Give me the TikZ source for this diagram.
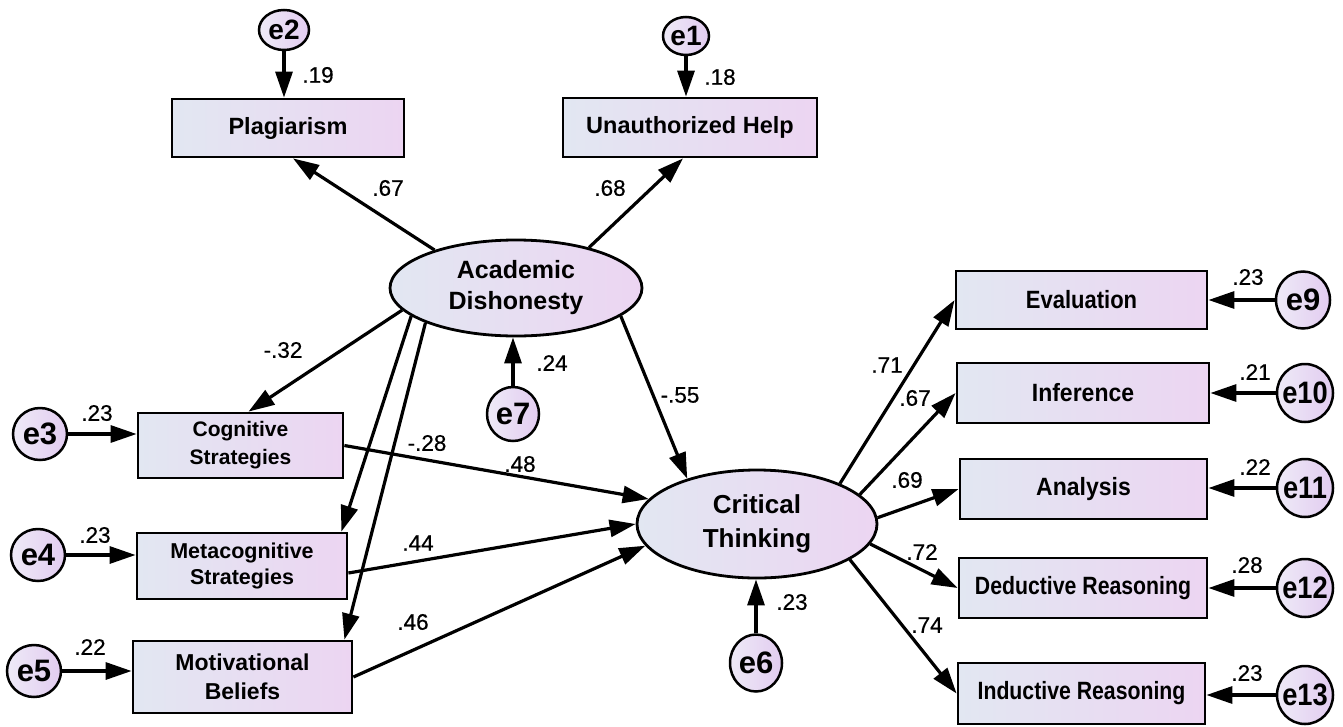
\documentclass[tikz,border=0pt]{standalone}
\usepackage{fontspec}
\usepackage{graphicx}
\setmainfont{Liberation Sans}
\newfontfamily\numfont{Liberation Sans}[FakeBold=0.5]
\usetikzlibrary{arrows.meta,shapes.geometric}
\definecolor{bl}{RGB}{226,231,242}
\definecolor{br}{RGB}{236,213,242}
\definecolor{el}{RGB}{238,234,247}
\definecolor{er}{RGB}{226,204,240}
\newcommand{\fs}[1]{\fontsize{#1}{#1}\selectfont}
\newcommand{\sqz}[2]{\scalebox{#1}[1]{#2}}
\begin{document}
\begin{tikzpicture}[x=1pt,y=-1pt,
 box/.style={draw, line width=2.8pt, rectangle, left color=bl, right color=br, inner sep=0pt, align=center},
 lat/.style={draw, line width=2.8pt, ellipse, left color=bl, right color=br, inner sep=0pt, align=center},
 err/.style={draw, line width=2.5pt, ellipse, left color=el, right color=er, inner sep=0pt, font=\bfseries\fs{31}},
 lbl/.style={inner sep=0pt, font=\numfont\fs{22.5}},
 arr/.style={line width=3.2pt, -{Triangle[length=26pt,width=17pt]}}]
\fill[white] (0,0) rectangle (1343,726);
\useasboundingbox (0,0) rectangle (1343,726);

% error terms
\node[err, minimum width=50pt, minimum height=40pt, font=\bfseries\fs{28}] (e2) at (284,30) {\makebox[0pt]{e2}};
\node[err, minimum width=46pt, minimum height=38pt, font=\bfseries\fs{28}] (e1) at (686,36) {\makebox[0pt]{e1}};
\node[err, minimum width=52pt, minimum height=54pt] (e7) at (513,414) {\makebox[0pt]{e7}};
\node[err, minimum width=54pt, minimum height=52pt] (e3) at (40,434) {\makebox[0pt]{e3}};
\node[err, minimum width=54pt, minimum height=52pt] (e4) at (38,555) {\makebox[0pt]{e4}};
\node[err, minimum width=54pt, minimum height=52pt] (e5) at (34,671) {\makebox[0pt]{e5}};
\node[err, minimum width=52pt, minimum height=57pt] (e6) at (756,663) {\makebox[0pt]{e6}};
\node[err, minimum width=54pt, minimum height=57pt] (e9) at (1303,300) {\makebox[0pt]{e9}};
\node[err, minimum width=56pt, minimum height=58pt] (e10) at (1305,393) {\makebox[0pt]{\sqz{0.88}{e10}}};
\node[err, minimum width=56pt, minimum height=58pt] (e11) at (1305,488) {\makebox[0pt]{\sqz{0.88}{e11}}};
\node[err, minimum width=56pt, minimum height=58pt] (e12) at (1305,588) {\makebox[0pt]{\sqz{0.88}{e12}}};
\node[err, minimum width=56pt, minimum height=58pt] (e13) at (1305,695) {\makebox[0pt]{\sqz{0.88}{e13}}};

% observed variables
\node[box, minimum width=232pt, minimum height=58pt, font=\bfseries\fs{23.5}] (plag) at (288,128) {Plagiarism};
\node[box, minimum width=254pt, minimum height=59pt, font=\bfseries\fs{23.5}] (uh) at (690,127.5) {Unauthorized Help};
\node[box, minimum width=205pt, minimum height=65pt, font=\bfseries\fontsize{21}{28}\selectfont] (cog) at (240.5,445.5) {Cognitive\\Strategies};
\node[box, minimum width=210pt, minimum height=66pt, font=\bfseries\fontsize{21.5}{26}\selectfont] (meta) at (242,566) {Metacognitive\\Strategies};
\node[box, minimum width=219pt, minimum height=72pt, font=\bfseries\fontsize{23}{29}\selectfont] (motiv) at (242.5,677) {Motivational\\Beliefs};
\node[box, minimum width=251pt, minimum height=58pt, font=\bfseries\fs{25}] (eval) at (1081.5,300) {\sqz{0.88}{Evaluation}};
\node[box, minimum width=252pt, minimum height=60pt, font=\bfseries\fs{25}] (inf) at (1083,393) {\sqz{0.92}{Inference}};
\node[box, minimum width=247pt, minimum height=60pt, font=\bfseries\fs{25}] (ana) at (1083.5,489) {\sqz{0.92}{Analysis}};
\node[box, minimum width=248pt, minimum height=60pt, font=\bfseries\fs{25}] (ded) at (1083,588) {\sqz{0.85}{Deductive Reasoning}};
\node[box, minimum width=247pt, minimum height=61pt, font=\bfseries\fs{25}] (ind) at (1081.5,693.5) {\sqz{0.85}{Inductive Reasoning}};

% latent variables
\node[lat, minimum width=252pt, minimum height=96pt, font=\bfseries\fontsize{25}{31}\selectfont] (ad) at (516,288) {Academic\\Dishonesty};
\node[lat, minimum width=240pt, minimum height=108pt, font=\bfseries\fontsize{26}{34}\selectfont] (ct) at (757,524) {Critical\\Thinking};

% connectors
\draw[arr] (e2.south) -- (e2.south |- plag.north);
\draw[arr] (e1.south) -- (e1.south |- uh.north);
\draw[arr] (ad.155) -- ([xshift=5pt]plag.south);
\draw[arr] (ad.29) -- ([xshift=-7pt]uh.south);
\draw[arr] (ad.191) -- ([xshift=8pt]cog.north);
\draw[arr] (ad.195) -- ([xshift=-7pt]meta.north east);
\draw[arr] (ad.201) -- ([xshift=-9pt]motiv.north east);
\draw[arr] (e7.north) -- (e7.north |- ad.south);
\draw[arr] (ad.-15) -- (ct.147);
\draw[arr] (cog.east) -- (ct.167);
\draw[arr] ([yshift=-7pt]meta.east) -- (ct.180);
\draw[arr] (motiv.east) -- (ct.191);
\draw[arr] (e6.north) -- (e6.north |- ct.south);
\draw[arr] (e3) -- (e3 -| cog.west);
\draw[arr] (e4) -- (e4 -| meta.west);
\draw[arr] (e5) -- (e5 -| motiv.west);
\draw[arr] (ct.26) -- (eval.west);
\draw[arr] (ct.16) -- (inf.west);
\draw[arr] (ct.3) -- (ana.west);
\draw[arr] (ct.-10) -- (ded.west);
\draw[arr] (ct.-21) -- (ind.west);
\draw[arr] (e9) -- (e9 -| eval.east);
\draw[arr] (e10) -- (e10 -| inf.east);
\draw[arr] (e11) -- (e11 -| ana.east);
\draw[arr] (e12) -- (e12 -| ded.east);
\draw[arr] (e13) -- (e13 -| ind.east);

% labels
\node[lbl] (l1) at (318,75) {.19};
\node[lbl] (l2) at (720,77) {.18};
\node[lbl] (l3) at (388,188) {.67};
\node[lbl] (l4) at (610,188) {.68};
\node[lbl] (l5) at (283,350) {-.32};
\node[lbl] (l6) at (552,363) {.24};
\node[lbl] (l7) at (680,395) {-.55};
\node[lbl] (l8) at (427,443) {-.28};
\node[lbl] (l9) at (520,464) {.48};
\node[lbl] (l10) at (418,543) {.44};
\node[lbl] (l11) at (413,622) {.46};
\node[lbl] (l12) at (97,413) {.23};
\node[lbl] (l13) at (95,535) {.23};
\node[lbl] (l14) at (90,647) {.22};
\node[lbl] (l15) at (792,602) {.23};
\node[lbl] (l16) at (887,365) {.71};
\node[lbl] (l17) at (915,398) {.67};
\node[lbl] (l18) at (907,480) {.69};
\node[lbl] (l19) at (922,552) {.72};
\node[lbl] (l20) at (927,625) {.74};
\node[lbl] (l21) at (1248,277) {.23};
\node[lbl] (l22) at (1255,372) {.21};
\node[lbl] (l23) at (1255,467) {.22};
\node[lbl] (l24) at (1247,565) {.28};
\node[lbl] (l25) at (1247,673) {.23};
\end{tikzpicture}
\end{document}
